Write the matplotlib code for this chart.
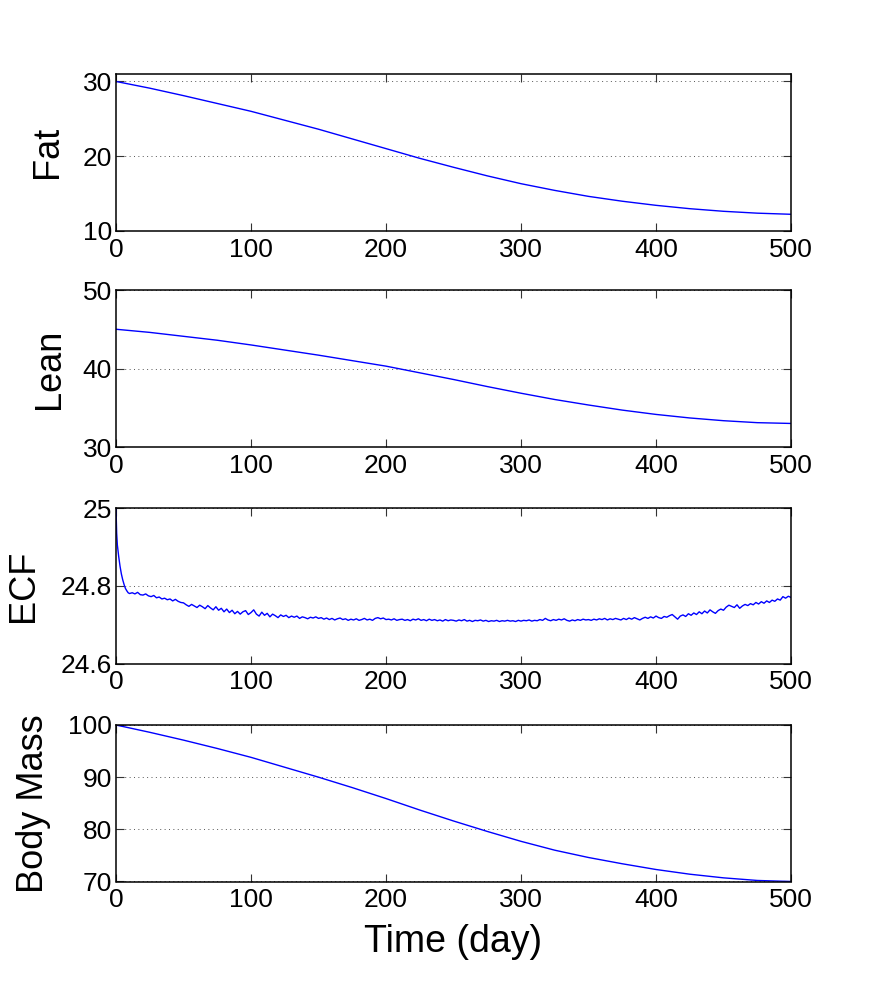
import matplotlib
matplotlib.use("Agg")
import matplotlib.pyplot as plt

# ---- data ----
days = [0, 25, 50, 75, 100, 125, 150, 175, 200, 225, 250, 275, 300,
        325, 350, 375, 400, 425, 450, 475, 500]
fat = [30.0, 29.1, 28.1, 27.05, 26.0, 24.8, 23.6, 22.3, 21.0, 19.7, 18.5,
       17.35, 16.3, 15.4, 14.6, 13.95, 13.4, 12.95, 12.6, 12.35, 12.2]
lean = [45.0, 44.6, 44.1, 43.6, 43.0, 42.35, 41.7, 41.0, 40.3, 39.45, 38.6,
        37.7, 36.85, 36.05, 35.35, 34.7, 34.15, 33.7, 33.35, 33.1, 33.0]
body_mass = [100.0, 98.6, 97.1, 95.5, 93.8, 91.9, 90.0, 88.0, 85.9, 83.7,
             81.6, 79.6, 77.7, 76.0, 74.6, 73.4, 72.3, 71.4, 70.7, 70.2, 70.0]

ecf_days = [0, 0.5, 1, 2, 3, 4, 5, 6, 7, 8, 9, 10] + list(range(12, 501, 2))
ecf = [25.0, 24.935, 24.905, 24.875, 24.85, 24.83, 24.815, 24.803, 24.793, 24.787, 24.782, 24.780,
       24.782, 24.779, 24.783, 24.777, 24.776, 24.779, 24.774, 24.772, 24.775, 24.769,
       24.771, 24.766, 24.768, 24.764, 24.766, 24.761, 24.765, 24.760, 24.757, 24.756,
       24.751, 24.747, 24.752, 24.748, 24.744, 24.750, 24.746, 24.741, 24.749, 24.743,
       24.738, 24.746, 24.737, 24.742, 24.733, 24.740, 24.731, 24.737, 24.728, 24.734,
       24.727, 24.733, 24.736, 24.726, 24.731, 24.738, 24.727, 24.722, 24.732, 24.724,
       24.729, 24.720, 24.727, 24.723, 24.718, 24.725, 24.721, 24.724, 24.718, 24.722,
       24.719, 24.722, 24.716, 24.720, 24.718, 24.715, 24.719, 24.717, 24.720, 24.716,
       24.718, 24.714, 24.717, 24.713, 24.716, 24.712, 24.715, 24.717, 24.713, 24.715,
       24.711, 24.714, 24.712, 24.715, 24.711, 24.713, 24.716, 24.712, 24.714, 24.711,
       24.716, 24.718, 24.715, 24.717, 24.713, 24.714, 24.712, 24.715, 24.711, 24.713,
       24.714, 24.711, 24.713, 24.710, 24.714, 24.712, 24.715, 24.711, 24.713, 24.710,
       24.714, 24.711, 24.713, 24.710, 24.712, 24.709, 24.713, 24.710, 24.712, 24.711,
       24.709, 24.712, 24.710, 24.713, 24.709, 24.711, 24.708, 24.711, 24.710, 24.712,
       24.709, 24.711, 24.708, 24.710, 24.709, 24.711, 24.708, 24.710, 24.709, 24.711,
       24.709, 24.710, 24.708, 24.711, 24.709, 24.711, 24.710, 24.712, 24.709, 24.711,
       24.710, 24.713, 24.711, 24.716, 24.712, 24.710, 24.713, 24.711, 24.714, 24.712,
       24.715, 24.711, 24.709, 24.712, 24.710, 24.713, 24.711, 24.714, 24.712, 24.713,
       24.711, 24.714, 24.712, 24.715, 24.713, 24.716, 24.712, 24.715, 24.713, 24.716,
       24.714, 24.712, 24.716, 24.713, 24.717, 24.714, 24.718, 24.715, 24.712, 24.716,
       24.719, 24.716, 24.720, 24.717, 24.722, 24.718, 24.716, 24.721, 24.719, 24.723,
       24.726, 24.720, 24.714, 24.722, 24.725, 24.721, 24.728, 24.724, 24.730, 24.726,
       24.733, 24.728, 24.735, 24.730, 24.738, 24.733, 24.729, 24.736, 24.740, 24.737,
       24.745, 24.750, 24.747, 24.744, 24.751, 24.742, 24.748, 24.752, 24.749, 24.754,
       24.751, 24.757, 24.753, 24.759, 24.755, 24.761, 24.757, 24.763, 24.760, 24.766,
       24.763, 24.772, 24.768, 24.773, 24.770]

xticks = [0, 100, 200, 300, 400, 500]
panels = [
    ("Fat", days, fat, (10, 31), [10, 20, 30], ["10", "20", "30"]),
    ("Lean", days, lean, (30, 50), [30, 40, 50], ["30", "40", "50"]),
    ("ECF", ecf_days, ecf, (24.6, 25.0), [24.6, 24.8, 25.0], ["24.6", "24.8", "25"]),
    ("Body Mass", days, body_mass, (70, 100), [70, 80, 90, 100], ["70", "80", "90", "100"]),
]

plt.rcParams['font.family'] = ['Liberation Sans', 'DejaVu Sans']

W, H = 873, 992
fig = plt.figure(figsize=(W / 100, H / 100), dpi=100)

# axes pixel boxes (top, bottom)
boxes = [(74, 230.7), (290, 447), (508, 663.5), (725, 881.5)]
left_px, right_px = 116, 791
label_x = [-0.075, -0.072, -0.111, -0.096]

for (name, xs, ys, ylim, yt, ytl), (top, bot), lx in zip(panels, boxes, label_x):
    ax = fig.add_axes([left_px / W, 1 - bot / H, (right_px - left_px) / W, (bot - top) / H])
    ax.plot(xs, ys, color=(0, 0, 1), lw=1.0)
    ax.set_xlim(0, 500)
    ax.set_ylim(*ylim)
    ax.set_xticks(xticks)
    ax.set_xticklabels([str(v) for v in xticks])
    ax.set_yticks(yt)
    ax.set_yticklabels(ytl)
    ax.tick_params(direction='in', length=6, width=0.8, top=True, right=True,
                   labelsize=19, color='#333333')
    ax.tick_params(axis='y', pad=3)
    ax.tick_params(axis='x', pad=5)
    ax.yaxis.grid(True, linestyle=(0, (1, 3.5)), color='#555555', lw=0.7)
    ax.xaxis.grid(False)
    for sp in ax.spines.values():
        sp.set_linewidth(1.1)
    ax.set_ylabel(name, fontsize=26)
    ax.yaxis.set_label_coords(lx, 0.5)
    if name == "Body Mass":
        ax.set_xlabel("Time (day)", fontsize=27, labelpad=8)

fig.savefig("out.png", dpi=100)
